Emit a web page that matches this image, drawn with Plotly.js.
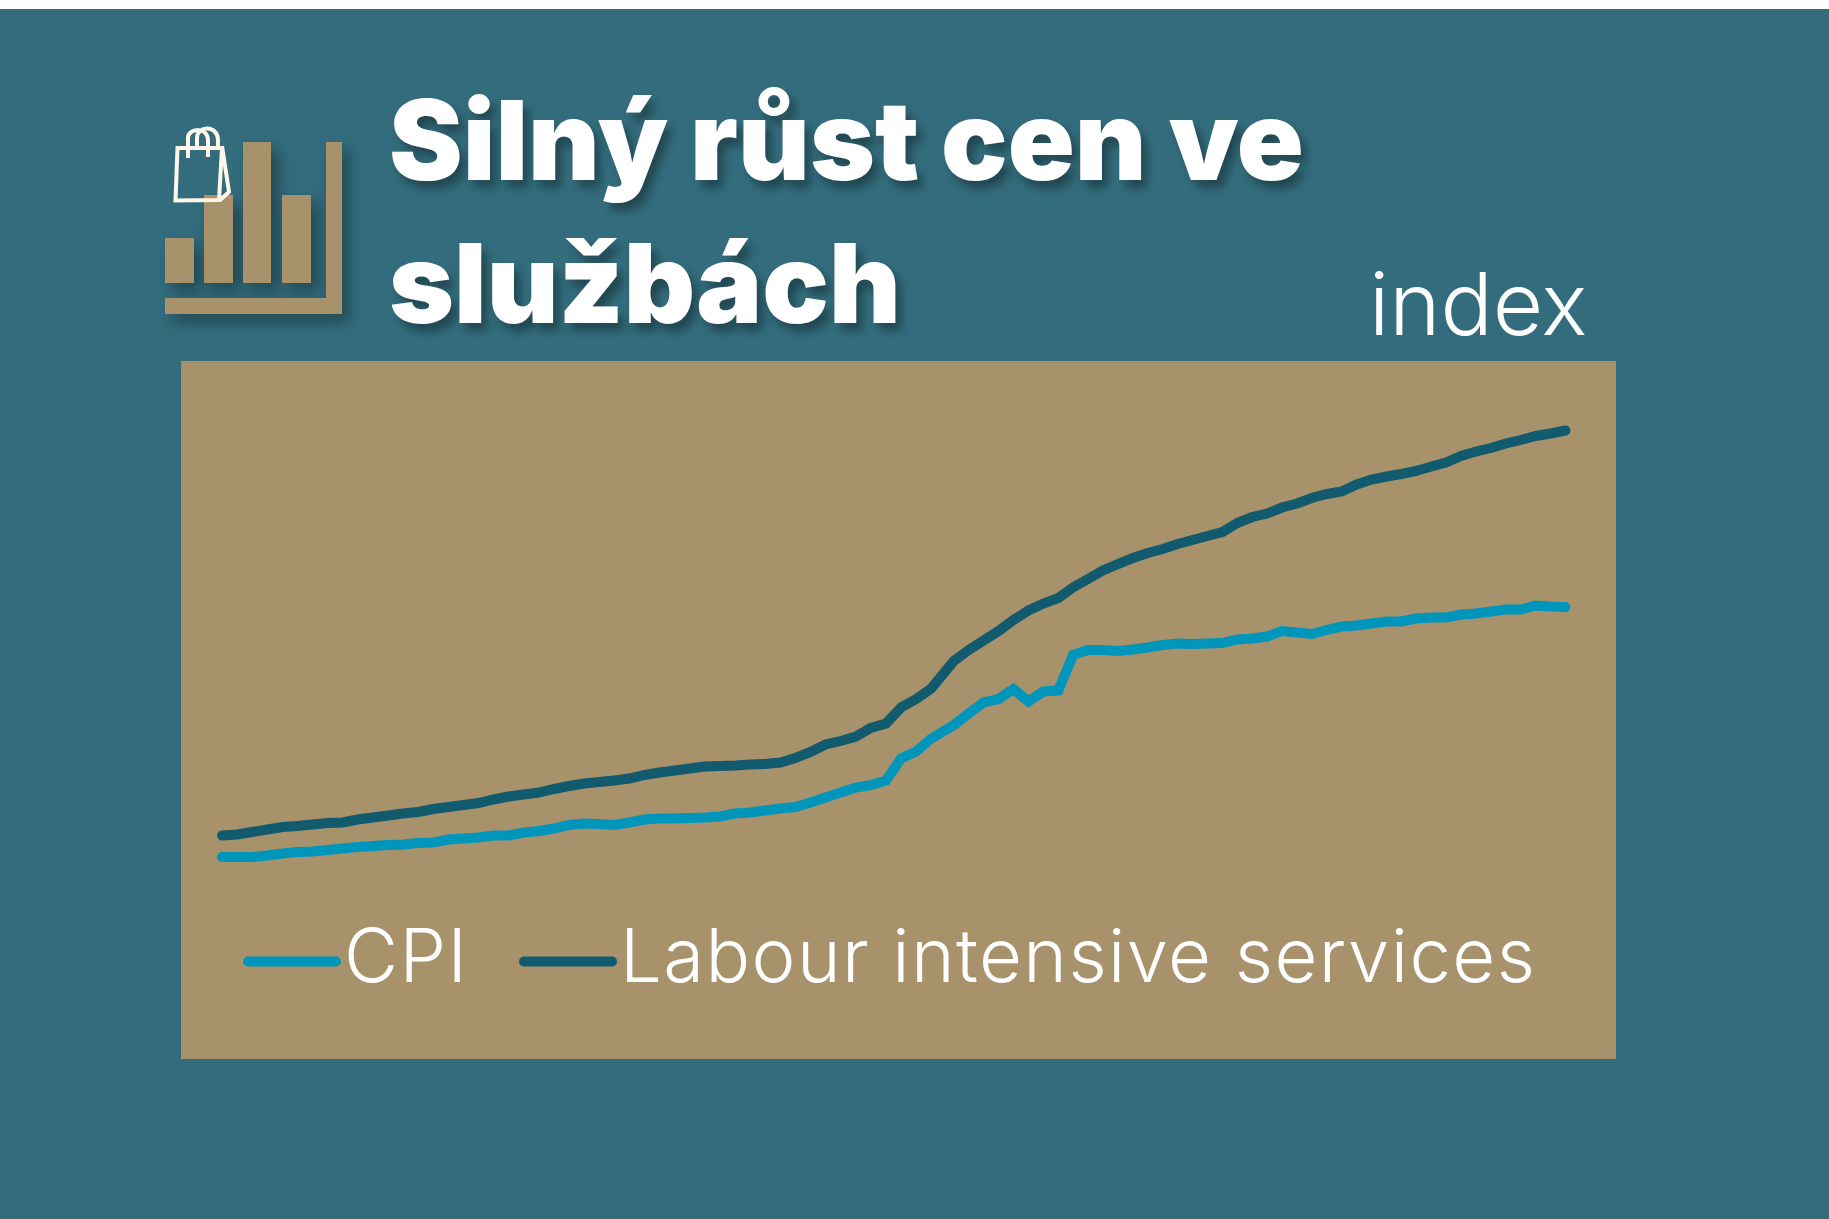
<!DOCTYPE html>
<html><head><meta charset="utf-8">
<script src="https://cdn.plot.ly/plotly-3.0.1.min.js"></script>
<style>
html,body{margin:0;padding:0;background:#fff;overflow:hidden}
#chart{position:absolute;left:0;top:9px;width:1829px;height:1210px}
.js-line,.legendlines path{stroke-linecap:round}
.legendtext{letter-spacing:1.4px;transform:translate(3px,-8px)}
.shapelayer path{filter:drop-shadow(7px 8px 8px rgba(0,0,0,.36))}
.shapelayer path.noshadow{filter:none}
</style></head><body><div id="chart"></div>
<script>
const chartTitle = 'Silný růst cen ve<br>službách';
const unitLabel = 'index';
const seriesNames = ['CPI', 'Labour intensive services'];
const monthIndex = [0,1,2,3,4,5,6,7,8,9,10,11,12,13,14,15,16,17,18,19,20,21,22,23,24,25,26,27,28,29,30,31,32,33,34,35,36,37,38,39,40,41,42,43,44,45,46,47,
48.5,49.48,50.47,51.46,52.45,53.44,54.43,55.42,56.4,57.39,58.38,59.37,60.36,61.35,62.34,63.33,64.31,65.3,66.29,67.28,68.27,69.26,70.25,71.24,72.22,73.21,74.2,75.19,76.18,77.17,78.16,79.14,80.13,81.12,82.11,83.1,84.09,85.08,86.07,87.05,88.04,89.03];
const cpi = [100,100,100,100.3,100.7,101,101.1,101.4,101.7,102,102.2,102.4,102.5,102.8,102.9,103.5,103.7,103.9,104.3,104.3,104.9,105.2,105.7,106.4,106.7,106.6,106.4,106.9,107.5,107.7,107.7,107.8,107.9,108.1,108.7,108.9,109.3,109.7,110,110.9,111.9,112.9,113.9,114.4,115.3,119.7,121.1,123.7,
126.4,128.7,130.9,131.6,133.6,131.1,133.1,133.3,140.4,141.4,141.4,141.2,141.5,141.9,142.4,142.7,142.6,142.7,142.8,143.5,143.7,144.1,145.2,144.9,144.6,145.4,146.1,146.3,146.7,147.1,147.1,147.7,147.9,147.9,148.5,148.7,149.1,149.5,149.5,150.3,150.1,150];
const labour = [104.3,104.5,105,105.5,106,106.2,106.5,106.8,106.9,107.5,107.9,108.3,108.7,109,109.6,110,110.4,110.8,111.5,112.1,112.5,112.9,113.6,114.2,114.7,115,115.3,115.7,116.4,116.9,117.3,117.7,118.1,118.2,118.3,118.5,118.6,118.9,119.8,121,122.5,123.2,124.1,125.8,126.7,129.9,131.6,133.7,
139.2,141.4,143.3,145.2,147.4,149.3,150.7,151.8,153.9,155.6,157.3,158.6,159.8,160.8,161.6,162.6,163.4,164.2,165,166.8,168,168.7,169.9,170.7,171.8,172.6,173.1,174.5,175.5,176.1,176.6,177.2,178.1,178.9,180.2,181.1,181.8,182.7,183.4,184.2,184.7,185.3];

const TEAL='#336d7d', TAN='#a8926c', CPI='#0096bc', DARK='#125a6e';
const PL=181, PR=1616, PT=361, PB=1059;
const fx=x=>((x-PL)/(PR-PL)).toFixed(5), fy=y=>((PB-y)/(PB-PT)).toFixed(5);
function pth(cmds){return cmds.map(c=>{const [k,...n]=c;let s=k;for(let i=0;i<n.length;i+=2){s+=(i?' ':'')+fx(n[i])+','+fy(n[i+1]);}return s;}).join(' ');}
function box(x0,y0,x1,y1){return {type:'rect',xref:'paper',yref:'paper',x0:fx(x0),x1:fx(x1),y0:fy(y1),y1:fy(y0),fillcolor:TAN,line:{width:0},layer:'above'};}
const iconShapes=[
 box(165,238,194,283),box(204,195,233,283),box(243,142,271,283),box(282,195,311,283),
 {type:'path',xref:'paper',yref:'paper',layer:'above',fillcolor:TAN,line:{width:0},
  path:pth([['M',326,142],['L',342,142],['L',342,314],['L',165,314],['L',165,298],['L',326,298],['Z']])},
 {type:'path',xref:'paper',yref:'paper',layer:'above',fillcolor:'rgba(0,0,0,0)',line:{color:'#fff6ea',width:4},
  path:pth([['M',177.5,148],['L',222,148],['L',219,200],['L',175.5,200.5],['Z'],
            ['M',222,146],['L',229,192],['L',220,200],
            ['M',188,158],['L',188,138],['C',188,128,207,126,208,140],['L',208,157],
            ['M',197,146],['L',197,138],['C',197,125,218,125,218,140],['L',218,146]])}
];
const traces=[
 {type:'scatter',mode:'lines',name:seriesNames[0],x:monthIndex,y:cpi,legendwidth:173,line:{color:CPI,width:10,simplify:false},hoverinfo:'skip'},
 {type:'scatter',mode:'lines',name:seriesNames[1],x:monthIndex,y:labour,legendwidth:960,line:{color:DARK,width:10,simplify:false},hoverinfo:'skip'}
];
const layout={
 width:1829,height:1210,autosize:false,
 margin:{l:PL,r:1829-PR,t:PT-9,b:1219-PB,pad:0},
 paper_bgcolor:TEAL,plot_bgcolor:TAN,
 title:{text:chartTitle,x:389/1829,xanchor:'left',xref:'container',y:0.859,yanchor:'top',yref:'container',
  font:{family:'Inter',size:110.6,weight:900,color:'#fff',shadow:'6px 8px 10px rgba(0,0,0,.35)'}},
 xaxis:{visible:false,range:[-2.717,92.38],fixedrange:true},
 yaxis:{visible:false,range:[59.6,199.2],fixedrange:true},
 showlegend:true,
 legend:{orientation:'h',x:fx(243),xanchor:'left',y:fy(961.7),yanchor:'middle',bgcolor:'rgba(0,0,0,0)',borderwidth:0,
  itemwidth:88,font:{family:'Inter',size:74.2,weight:300,color:'#fff'},itemclick:false,itemdoubleclick:false},
 annotations:[{text:unitLabel,xref:'paper',yref:'paper',x:fx(1589),y:fy(357),xanchor:'right',yanchor:'bottom',showarrow:false,
  font:{family:'Inter',size:87,weight:300,color:'#fff'},borderpad:0}],
 shapes:iconShapes
};
Plotly.newPlot('chart',traces,layout,{staticPlot:false,displayModeBar:false,responsive:false}).then(()=>{
 const ps=document.querySelectorAll('.shapelayer path');
 if(ps.length) ps[ps.length-1].classList.add('noshadow');
});
</script></body></html>
